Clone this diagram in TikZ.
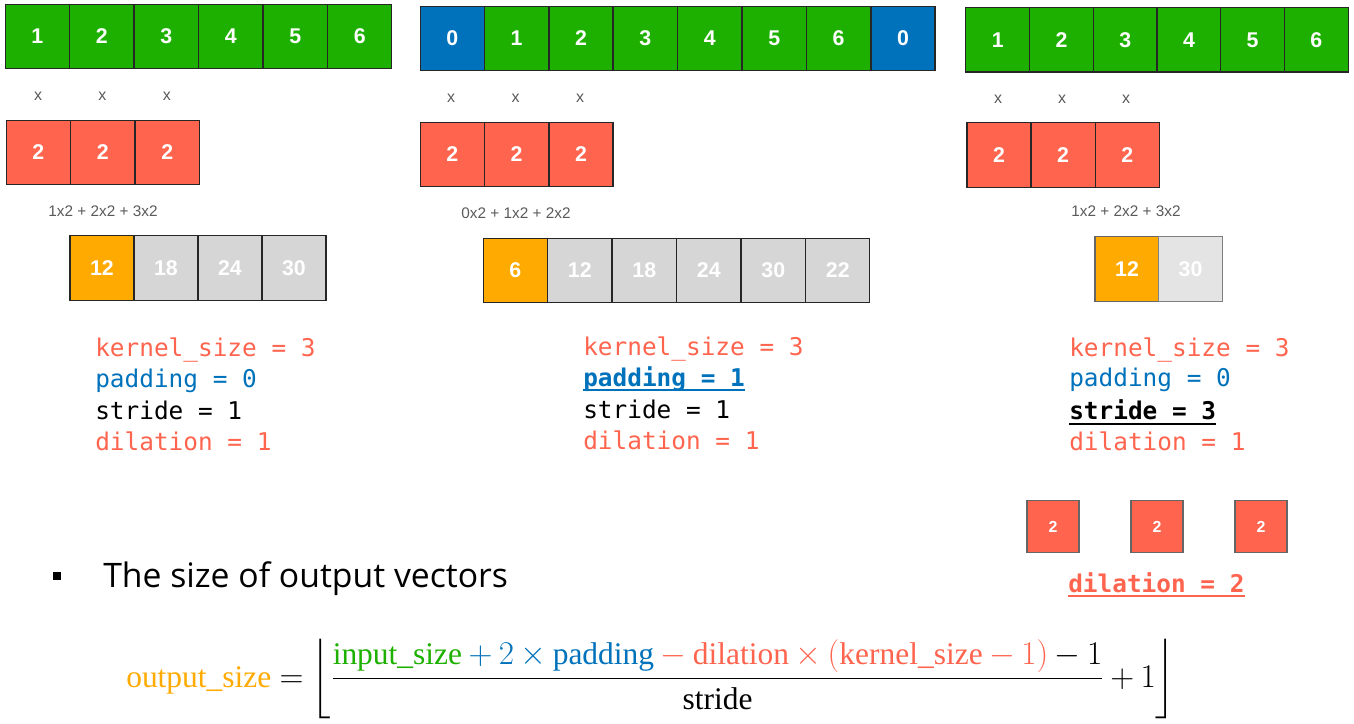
\documentclass[tikz,border=0pt]{standalone}
\usepackage{amsmath}
\usepackage{fontspec}
\setmainfont{Liberation Serif}
\newfontfamily\cellfont{Liberation Sans}
\newfontfamily\codefont{DejaVu Sans Mono}
\newfontfamily\slidefont{Open Sans}

\definecolor{ingreen}{RGB}{30,176,0}
\definecolor{padblue}{RGB}{0,114,187}
\definecolor{kernred}{RGB}{255,100,78}
\definecolor{outorange}{RGB}{255,170,0}
\definecolor{outgray}{RGB}{214,214,214}
\definecolor{lastgray}{RGB}{228,228,228}
\definecolor{mulgray}{RGB}{90,90,90}

\tikzset{
    cell/.style={draw=black!85,line width=0.9pt,minimum width=48pt,minimum height=48.4pt,
        inner sep=0pt,outer sep=0pt,text=white,font=\cellfont\bfseries\fontsize{16}{16}\selectfont},
    incell/.style={cell,fill=ingreen},
    padcell/.style={cell,fill=padblue},
    kercell/.style={cell,fill=kernred},
    hitcell/.style={cell,fill=outorange},
    restcell/.style={cell,fill=outgray},
    mulmark/.style={text=mulgray,font=\cellfont\fontsize{12}{12}\selectfont},
    sumtext/.style={text=mulgray,anchor=base,inner sep=0pt,font=\cellfont\fontsize{11.5}{12}\selectfont},
    param/.style={anchor=base west,inner sep=0pt,font=\codefont\fontsize{18.3}{20}\selectfont}
}

\begin{document}
\begin{tikzpicture}[x=0.75pt,y=-0.75pt]
    \useasboundingbox (0,0) rectangle (1354,724);

    % no padding
    \foreach \v [count=\i] in {1,...,6}
        \node[incell] (a-in\i) at ({5+64.5*(\i-0.5)},36.5) {\v};
    \foreach \i in {1,2,3} {
        \node[mulmark] (a-x\i) at ({6+64.3*(\i-0.5)},96) {x};
        \node[kercell] (a-k\i) at ({6+64.5*(\i-0.5)},152.5) {2};
    }
    \node[sumtext] (a-sum) at (103,216.5) {1x2 + 2x2 + 3x2};
    \foreach \v/\s [count=\i] in {12/hitcell,18/restcell,24/restcell,30/restcell}
        \node[style=\s] (a-out\i) at ({70+64*(\i-0.5)},268) {\v};

    \node[param,text=kernred] (a-ks) at (95,356) {kernel\_size = 3};
    \node[param,text=padblue] (a-pad) at (95,387.5) {padding = 0};
    \node[param,text=black] (a-st) at (95,419) {stride = 1};
    \node[param,text=kernred] (a-dil) at (95,450.5) {dilation = 1};

    % padding = 1
    \foreach \v/\s [count=\i] in {0/padcell,1/incell,2/incell,3/incell,4/incell,5/incell,6/incell,0/padcell}
        \node[style=\s] (b-in\i) at ({420+64.4*(\i-0.5)},38.5) {\v};
    \foreach \i in {1,2,3} {
        \node[mulmark] (b-x\i) at ({451+64.5*(\i-1)},98) {x};
        \node[kercell] (b-k\i) at ({420+64.4*(\i-0.5)},154.5) {2};
    }
    \node[sumtext] (b-sum) at (516,218) {0x2 + 1x2 + 2x2};
    \foreach \v/\s [count=\i] in {6/hitcell,12/restcell,18/restcell,24/restcell,30/restcell,22/restcell}
        \node[style=\s] (b-out\i) at ({483+64.5*(\i-0.5)},270.5) {\v};

    \node[param,text=kernred] (b-ks) at (583,355) {kernel\_size = 3};
    \node[param,text=padblue,font=\codefont\bfseries\fontsize{18.3}{20}\selectfont] (b-pad) at (583,386.5) {padding = 1};
    \node[param,text=black] (b-st) at (583,418) {stride = 1};
    \node[param,text=kernred] (b-dil) at (583,449.5) {dilation = 1};
    \draw[padblue,line width=1.3pt] ([yshift=-2.8pt]b-pad.base west) -- ([yshift=-2.8pt]b-pad.base east);

    % stride = 3
    \foreach \v [count=\i] in {1,...,6}
        \node[incell] (c-in\i) at ({966+63.7*(\i-0.5)},39.8) {\v};
    \foreach \i in {1,2,3} {
        \node[mulmark] (c-x\i) at ({998+64*(\i-1)},99) {x};
        \node[kercell] (c-k\i) at ({967+64.1*(\i-0.5)},155) {2};
    }
    \node[sumtext] (c-sum) at (1126,216.5) {1x2 + 2x2 + 3x2};
    \node[hitcell,draw=black!60] (c-out1) at (1127,269) {12};
    \node[cell,fill=lastgray,draw=black!50] (c-out2) at (1190.5,269) {30};

    \node[param,text=kernred] (c-ks) at (1069,356) {kernel\_size = 3};
    \node[param,text=padblue] (c-pad) at (1069,386) {padding = 0};
    \node[param,text=black,font=\codefont\bfseries\fontsize{18.3}{20}\selectfont] (c-st) at (1069,419) {stride = 3};
    \node[param,text=kernred] (c-dil) at (1069,450.5) {dilation = 1};
    \draw[black,line width=1.3pt] ([yshift=-3.5pt]c-st.base west) -- ([yshift=-3.5pt]c-st.base east);

    % dilation = 2
    \foreach \cx [count=\i] in {1053,1157,1261}
        \node[kercell,draw=black!60,minimum width=39pt,minimum height=39pt,font=\cellfont\bfseries\fontsize{12}{12}\selectfont] (d-k\i) at (\cx,526.5) {2};
    \node[param,text=kernred,font=\codefont\bfseries\fontsize{18.3}{20}\selectfont] (d-dil) at (1068,592) {dilation = 2};
    \draw[kernred,line width=1.3pt] ([yshift=-3pt]d-dil.base west) -- ([yshift=-3pt]d-dil.base east);

    % output size
    \node[fill=black,minimum width=6pt,minimum height=6.5pt,inner sep=0pt] (bullet) at (57,576) {};
    \node[anchor=base west,inner sep=0pt,font=\slidefont\fontsize{25.3}{28}\selectfont] (title) at (103,587) {The size of output vectors};
    \node[anchor=base west,inner sep=0pt,font=\fontsize{23.6}{29}\selectfont] (formula) at (126,687)
        {$\medmuskip=3.5mu plus 2mu minus 4mu \thickmuskip=4.5mu plus 5mu
        \textcolor{outorange}{\text{output\_size}} = \left\lfloor \dfrac{\textcolor{ingreen}{\text{input\_size}}
        \textcolor{padblue}{{}+ 2 \times \text{padding}}
        \textcolor{kernred}{{}- \text{dilation} \times (\text{kernel\_size} - 1)} - 1}{\text{stride}} + 1 \right\rfloor$};
\end{tikzpicture}
\end{document}
